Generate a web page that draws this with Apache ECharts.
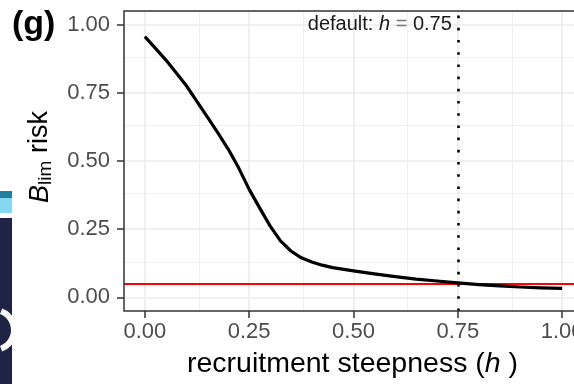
<!DOCTYPE html>
<html>
<head>
<meta charset="utf-8">
<script src="https://cdn.jsdelivr.net/npm/echarts@6/dist/echarts.min.js"></script>
<style>
    html, body { margin: 0; padding: 0; overflow: hidden; background: #fff; }
    #chart { width: 600px; height: 384px; }
</style>
</head>
<body>
<div id="chart"></div>
<script>
    // recruitment steepness h vs B_lim risk
    var steepness = [0, 0.025, 0.05, 0.075, 0.10, 0.125, 0.15, 0.175, 0.20, 0.225, 0.25,
        0.275, 0.30, 0.325, 0.35, 0.375, 0.40, 0.425, 0.45, 0.50,
        0.55, 0.60, 0.65, 0.70, 0.75, 0.80, 0.85, 0.90, 0.95, 1.00];
    var limRisk = [0.956, 0.914, 0.871, 0.824, 0.775, 0.718, 0.661, 0.603, 0.543, 0.474, 0.396,
        0.328, 0.262, 0.207, 0.17, 0.145, 0.13, 0.118, 0.109, 0.097,
        0.086, 0.076, 0.067, 0.060, 0.053, 0.047, 0.042, 0.038, 0.035, 0.033];
    var majorTicks = [0, 0.25, 0.5, 0.75, 1];
    var minorTicks = [0.125, 0.375, 0.625, 0.875];
    var defaultH = 0.75;
    var riskLimit = 0.05;

    var font = '"Liberation Sans", Arial, sans-serif';

    var gridLines = [];
    minorTicks.forEach(function (v) {
        gridLines.push({xAxis: v, lineStyle: {color: '#f0f0f0', width: 1, type: 'solid'}});
        gridLines.push({yAxis: v, lineStyle: {color: '#f0f0f0', width: 1, type: 'solid'}});
    });
    majorTicks.forEach(function (v) {
        gridLines.push({xAxis: v, lineStyle: {color: '#ebebeb', width: 1.6, type: 'solid'}});
        gridLines.push({yAxis: v, lineStyle: {color: '#ebebeb', width: 1.6, type: 'solid'}});
    });

    var chart = echarts.init(document.getElementById('chart'));

    var option = {
        animation: false,
        grid: {
            left: 124,
            top: 11,
            width: 459,
            height: 300,
            show: true,
            borderColor: '#333',
            borderWidth: 1.5,
            backgroundColor: 'transparent',
            z: 10
        },
        xAxis: {
            type: 'value',
            min: -0.05,
            max: 1.05,
            axisLine: {show: false, onZero: false},
            splitLine: {show: false},
            axisTick: {show: true, customValues: majorTicks, length: 7, lineStyle: {color: '#333', width: 1.5}},
            axisLabel: {
                customValues: majorTicks,
                margin: 10,
                color: '#4d4d4d',
                fontSize: 22,
                fontFamily: font,
                formatter: function (v) { return v.toFixed(2); }
            }
        },
        yAxis: {
            type: 'value',
            min: -0.05,
            max: 1.05,
            axisLine: {show: false, onZero: false},
            splitLine: {show: false},
            axisTick: {show: true, customValues: majorTicks, length: 7, lineStyle: {color: '#333', width: 1.5}},
            axisLabel: {
                customValues: majorTicks,
                margin: 14,
                color: '#4d4d4d',
                fontSize: 22,
                fontFamily: font,
                formatter: function (v) { return v.toFixed(2); }
            }
        },
        series: [
            {
                name: 'grid',
                type: 'line',
                data: [],
                z: 1,
                silent: true,
                markLine: {
                    silent: true,
                    z: 1,
                    symbol: 'none',
                    label: {show: false},
                    data: gridLines
                }
            },
            {
                name: 'limit',
                type: 'line',
                data: [],
                z: 2,
                silent: true,
                markLine: {
                    silent: true,
                    z: 2,
                    symbol: 'none',
                    label: {show: false},
                    lineStyle: {color: '#ff0000', width: 2.2, type: 'solid'},
                    data: [{yAxis: riskLimit}]
                }
            },
            {
                name: 'risk',
                type: 'line',
                z: 3,
                showSymbol: false,
                data: steepness.map(function (h, i) { return [h, limRisk[i]]; }),
                lineStyle: {color: '#000', width: 3.2, join: 'round'},
                markLine: {
                    silent: true,
                    z: 4,
                    symbol: 'none',
                    label: {show: false},
                    lineStyle: {color: '#000', width: 2.6, type: [2.6, 9.6]},
                    data: [{xAxis: defaultH}]
                },
                markPoint: {
                    symbol: 'circle',
                    symbolSize: 0,
                    z: 5,
                    data: [{coord: [defaultH, 1.0]}],
                    label: {
                        show: true,
                        position: 'left',
                        distance: 6,
                        color: '#1a1a1a',
                        fontSize: 20,
                        fontFamily: font,
                        formatter: '{n|default: }{i|h}{e| = }{n|0.75}',
                        rich: {
                            n: {fontSize: 20, fontFamily: font, color: '#1a1a1a'},
                            i: {fontSize: 20, fontFamily: font, color: '#1a1a1a', fontStyle: 'italic'},
                            e: {fontSize: 20, fontFamily: font, color: '#777'}
                        }
                    }
                }
            }
        ],
        graphic: [
            // panel tag
            {
                type: 'text',
                left: 12,
                top: 8,
                style: {text: '(g)', fontSize: 34, fontWeight: 'bold', fontFamily: font, fill: '#000'}
            },
            // y axis title
            {
                type: 'text',
                x: 40,
                y: 157,
                rotation: Math.PI / 2,
                style: {
                    text: '{b|B}{s|lim}{r| risk}',
                    align: 'center',
                    verticalAlign: 'middle',
                    fill: '#000',
                    rich: {
                        b: {fontSize: 27, fontFamily: font, fontStyle: 'italic', fill: '#000'},
                        s: {fontSize: 19, fontFamily: font, fill: '#000', padding: [12, 0, 0, 0]},
                        r: {fontSize: 27, fontFamily: font, fill: '#000'}
                    }
                }
            },
            // x axis title
            {
                type: 'text',
                left: 187,
                top: 350,
                style: {
                    text: '{n|recruitment steepness (}{i|h}{n| )}',
                    rich: {
                        n: {fontSize: 28.5, fontFamily: font, fill: '#000'},
                        i: {fontSize: 28.5, fontFamily: font, fontStyle: 'italic', fill: '#000'}
                    }
                }
            },
            // cropped neighbouring panel at the left edge
            {type: 'rect', shape: {x: 0, y: 191, width: 12, height: 7}, style: {fill: '#1f7f9f'}},
            {type: 'rect', shape: {x: 0, y: 198, width: 12, height: 15}, style: {fill: '#86d8f0'}},
            {type: 'rect', shape: {x: 0, y: 218, width: 12, height: 166}, style: {fill: '#1f2445'}},
            {type: 'arc', shape: {cx: -6, cy: 330, r: 20, startAngle: -Math.PI / 2.6, endAngle: Math.PI / 2.6},
                style: {stroke: '#fff', lineWidth: 6, fill: null}}
        ]
    };

    chart.setOption(option);
</script>
</body>
</html>
